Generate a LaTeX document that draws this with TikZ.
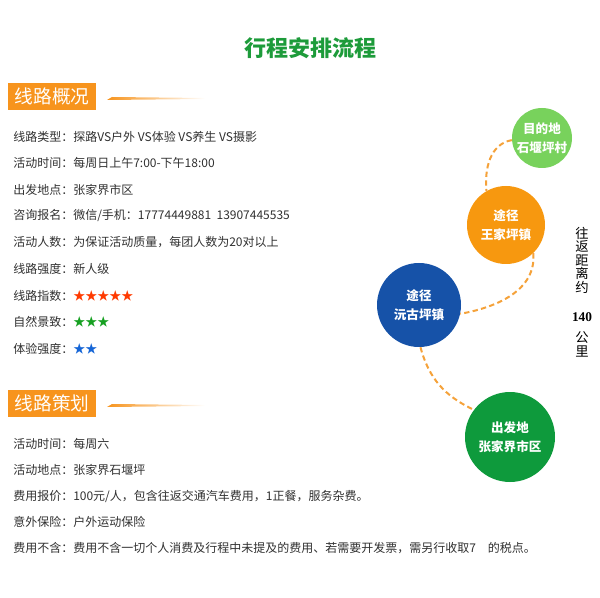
\documentclass[tikz,border=0pt]{standalone}
\usepackage{fontspec}
\setmainfont{Noto Sans CJK SC}
\newfontfamily\numfont{Liberation Serif}
\usetikzlibrary{shapes}
\definecolor{titlegreen}{HTML}{1D9B3A}
\definecolor{headorange}{HTML}{F7941D}
\definecolor{bodygray}{HTML}{303030}
\definecolor{dashorange}{HTML}{F5A23A}
\definecolor{starred}{HTML}{FF3A00}
\definecolor{stargreen}{HTML}{16A021}
\definecolor{starblue}{HTML}{1565D6}
\definecolor{lightgreen}{HTML}{78D25C}
\definecolor{stoporange}{HTML}{F7980F}
\definecolor{stopblue}{HTML}{1652A8}
\definecolor{stopgreen}{HTML}{0E9A3C}

\begin{document}
\begin{tikzpicture}[x=0.75pt,y=0.75pt]
    \tikzstyle{head}=[fill=headorange, text=white, minimum width=66pt, minimum height=20.25pt, inner sep=0pt, font=\fontsize{14}{14}\selectfont]
    \tikzstyle{row}=[anchor=west, inner sep=0pt, text=bodygray, font=\fontsize{9}{9}\selectfont]
    \tikzstyle{stop}=[circle, text=white, align=center, inner sep=0pt, font=\bfseries\fontsize{9.4}{14}\selectfont]
    \tikzstyle{link}=[dashorange, line width=1.5pt, dash pattern=on 4pt off 2.5pt]
    \useasboundingbox (0,0) rectangle (600,597);
    \node[text=titlegreen, font=\bfseries\fontsize{16.5}{16.5}\selectfont] (title) at (310.5,549) {行程安排流程};
    % overview
    \node[head] (head1) at (52,500.5) {线路概况};
    \shade[left color=headorange, right color=white] (107,497) -- (112,500) -- (205,499) -- (205,498) -- cycle;
    \foreach \t [count=\i] in {{线路类型：探路VS户外 VS体验 VS养生 VS摄影},
        {活动时间：每周日上午7:00-下午18:00},
        {出发地点：张家界市区},
        {咨询报名：微信/手机：17774449881\ \ 13907445535},
        {活动人数：为保证活动质量，每团人数为20对以上},
        {线路强度：新人级},
        {线路指数：\textcolor{starred}{★★★★★}},
        {自然景致：\textcolor{stargreen}{★★★}},
        {体验强度：\textcolor{starblue}{★★}}}
        \node[row] (view\i) at (13,487-26.5*\i) {\t};
    % plan
    \node[head] (head2) at (52,193.5) {线路策划};
    \shade[left color=headorange, right color=white] (107,190) -- (112,193) -- (205,192) -- (205,191) -- cycle;
    \foreach \t [count=\i] in {{活动时间：每周六},
        {活动地点：张家界石堰坪},
        {费用报价：100元/人，包含往返交通汽车费用，1正餐，服务杂费。},
        {意外保险：户外运动保险},
        {费用不含：费用不含一切个人消费及行程中未提及的费用、若需要开发票，需另行收取7\hspace{1em}的税点。}}
        \node[row] (plan\i) at (13,179-26*\i) {\t};
    % route
    \node[stop, fill=lightgreen, minimum size=45pt] (dest) at (542,459) {目的地\\石堰坪村};
    \node[stop, fill=stoporange, minimum size=58.5pt] (wang) at (506,372) {途径\\王家坪镇};
    \node[stop, fill=stopblue, minimum size=63pt] (yuan) at (419,292) {途径\\沅古坪镇};
    \node[stop, fill=stopgreen, minimum size=67.5pt] (start) at (510,160) {出发地\\张家界市区};
    \draw[link] (dest.184) to[out=190,in=95] (wang.120);
    \draw[link] (wang.-46) to[out=-85,in=10] (yuan.-12);
    \draw[link] (yuan.-88) to[out=-75,in=155] (start.143);
    \foreach \c/\yy [count=\k] in {往/364,返/350.5,距/337,离/323.5,约/310,{\numfont\bfseries 140}/280,公/259,里/245.5}
        \node[inner sep=0pt, font=\fontsize{10}{10}\selectfont] (dist\k) at (582,\yy) {\c};
\end{tikzpicture}
\end{document}
